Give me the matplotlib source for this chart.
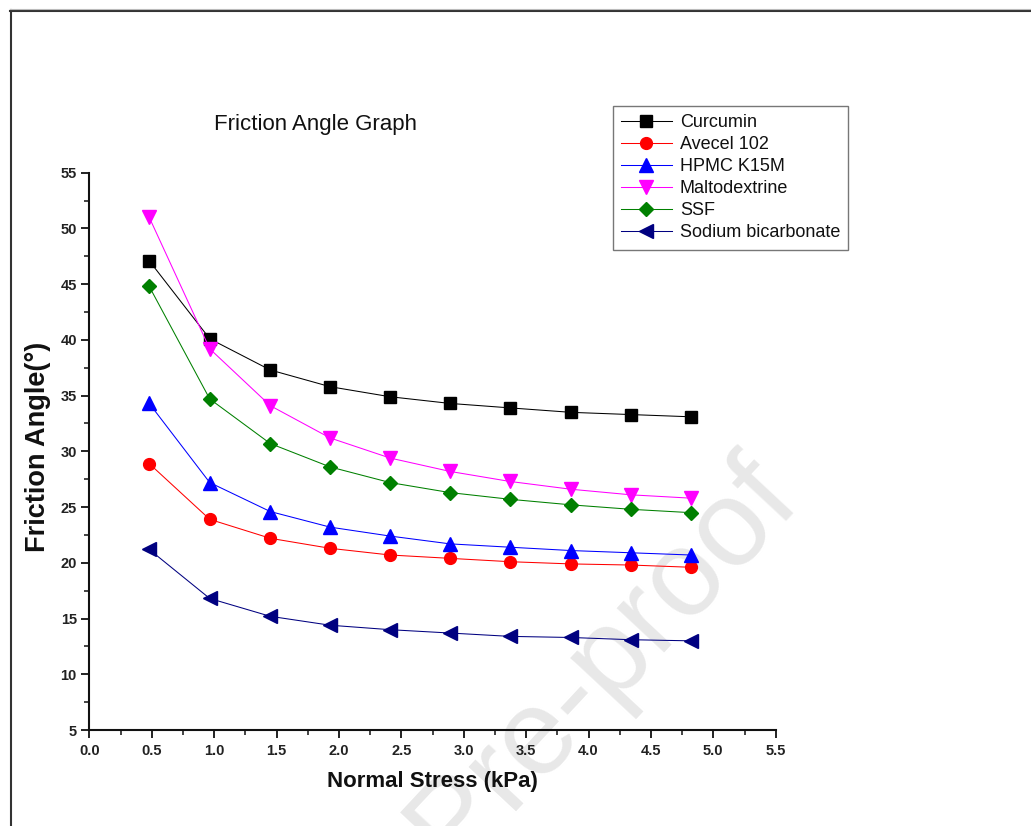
import matplotlib
matplotlib.use("Agg")
import matplotlib.pyplot as plt
from matplotlib.lines import Line2D
from matplotlib.ticker import MultipleLocator

plt.rcParams['font.family'] = ['Liberation Sans', 'DejaVu Sans']

# ---- data ----
normal_stress = [0.48, 0.965, 1.45, 1.93, 2.41, 2.89, 3.37, 3.86, 4.34, 4.82]
curcumin = [47.1, 40.1, 37.3, 35.8, 34.9, 34.3, 33.9, 33.5, 33.3, 33.1]
avecel_102 = [28.9, 23.9, 22.2, 21.3, 20.7, 20.4, 20.1, 19.9, 19.8, 19.6]
hpmc_k15m = [34.3, 27.2, 24.6, 23.2, 22.4, 21.7, 21.4, 21.1, 20.9, 20.7]
maltodextrine = [51.0, 39.2, 34.1, 31.2, 29.4, 28.2, 27.3, 26.6, 26.1, 25.8]
ssf = [44.8, 34.7, 30.7, 28.6, 27.2, 26.3, 25.7, 25.2, 24.8, 24.5]
sodium_bicarbonate = [21.2, 16.8, 15.2, 14.4, 14.0, 13.7, 13.4, 13.3, 13.1, 13.0]

series_names = ["Curcumin", "Avecel 102", "HPMC K15M", "Maltodextrine", "SSF", "Sodium bicarbonate"]
series_values = [curcumin, avecel_102, hpmc_k15m, maltodextrine, ssf, sodium_bicarbonate]
series_colors = ["#000000", "#ff0000", "#0000ff", "#ff00ff", "#008000", "#000080"]
series_markers = ["s", "o", "^", "v", "D", "<"]
series_msize = [8, 8.5, 9.5, 9.5, 7.5, 9.5]

W, H = 1031, 826
fig = plt.figure(figsize=(W / 100, H / 100), dpi=100)

# axes placement (pixels -> figure fraction)
left_px, right_px, top_px, bottom_px = 89.3, 775.7, 172.7, 730.0
ax = fig.add_axes([left_px / W, 1 - bottom_px / H, (right_px - left_px) / W, (bottom_px - top_px) / H])
ax.patch.set_facecolor('none')

for name, vals, c, m, ms in zip(series_names, series_values, series_colors, series_markers, series_msize):
    ax.plot(normal_stress, vals, color=c, lw=0.75, marker=m, markersize=ms,
            markerfacecolor=c, markeredgecolor=c, label=name, zorder=3)

ax.set_xlim(0, 5.5)
ax.set_ylim(5, 55)
ax.xaxis.set_major_locator(MultipleLocator(0.5))
ax.xaxis.set_minor_locator(MultipleLocator(0.25))
ax.yaxis.set_major_locator(MultipleLocator(5))
ax.yaxis.set_minor_locator(MultipleLocator(2.5))
ax.xaxis.set_major_formatter(matplotlib.ticker.FormatStrFormatter('%.1f'))

for s in ['top', 'right']:
    ax.spines[s].set_visible(False)
for s in ['left', 'bottom']:
    ax.spines[s].set_linewidth(1.5)
    ax.spines[s].set_color('#111111')

ax.tick_params(axis='both', which='major', direction='out', length=6, width=1.3, color='#111111')
ax.tick_params(axis='both', which='minor', direction='out', length=3.5, width=1.1, color='#111111')
ax.tick_params(axis='x', which='major', pad=4)
ax.tick_params(axis='y', which='major', pad=3)
for lab in ax.get_xticklabels() + ax.get_yticklabels():
    lab.set_fontweight('bold')
    lab.set_fontsize(10.5)
    lab.set_color('#222222')

ax.set_xlabel("Normal Stress (kPa)", fontsize=16, fontweight='bold', color='#111111')
ax.set_ylabel("Friction Angle(°)", fontsize=19.5, fontweight='bold', color='#111111')
ax.xaxis.set_label_coords(0.5, -(781 - bottom_px) / (bottom_px - top_px))
ax.xaxis.label.set_va('center')
ax.yaxis.set_label_coords((38 - left_px) / (right_px - left_px), (bottom_px - 447) / (bottom_px - top_px))
ax.yaxis.label.set_va('center')

ax.text((316 - left_px) / (right_px - left_px), (bottom_px - 124) / (bottom_px - top_px),
        "Friction Angle Graph", transform=ax.transAxes, ha='center', va='center',
        fontsize=16, color='#111111')

leg = ax.legend(loc='upper left', bbox_to_anchor=(613 / W, 1 - 106 / H),
                bbox_transform=fig.transFigure, fontsize=13, frameon=True,
                fancybox=False, borderaxespad=0, handlelength=2.8, handletextpad=0.45,
                labelspacing=0.28, borderpad=0.45, markerscale=1.0)
leg.get_frame().set_edgecolor('#555555')
leg.get_frame().set_linewidth(1.0)
for t in leg.get_texts():
    t.set_color('#111111')

# watermark (behind the plot)
fig.text(780 / W, 1 - 482 / H, "Journal Pre-proof", fontsize=88, color='#e8e8e8',
         rotation=47, rotation_mode='anchor', ha='right', va='center', zorder=-1)

# outer frame lines
fig.add_artist(Line2D([10.5 / W, 10.5 / W], [0, 1 - 10 / H], transform=fig.transFigure,
                      color='#333333', lw=1.5))
fig.add_artist(Line2D([10 / W, 1], [1 - 10.5 / H, 1 - 10.5 / H], transform=fig.transFigure,
                      color='#333333', lw=1.5))
fig.add_artist(Line2D([10 / W, 1], [1 - 8.5 / H, 1 - 8.5 / H], transform=fig.transFigure,
                      color='#bbbbbb', lw=0.8))

fig.savefig("out.png", dpi=100)
